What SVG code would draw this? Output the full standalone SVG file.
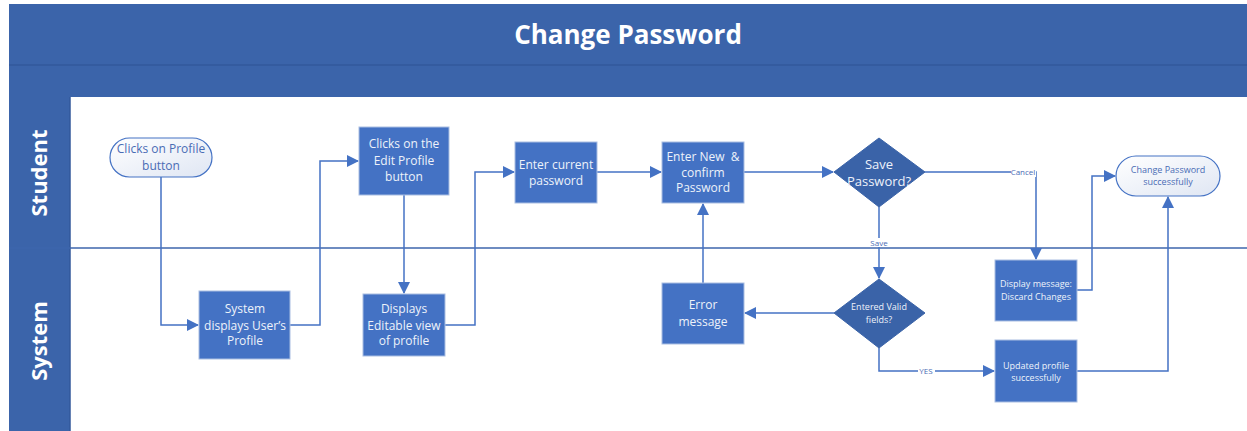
<svg xmlns="http://www.w3.org/2000/svg" width="1247" height="431" viewBox="0 0 1247 431">
<defs>
<linearGradient id="term" x1="0" y1="0" x2="1" y2="1">
<stop offset="0" stop-color="#ffffff"/>
<stop offset="1" stop-color="#dfe6f3"/>
</linearGradient>
<marker id="arr" markerUnits="userSpaceOnUse" markerWidth="12" markerHeight="12" viewBox="0 0 12 12" refX="11" refY="6" orient="auto">
<path d="M0,0 L12,6 L0,12 Z" fill="#4472C4"/>
</marker>
</defs>
<style>
.band{fill:#3B64AA}
.proc{fill:#4472C4;stroke:#A9BEE2;stroke-width:1}
.dec{fill:#3A63A8;stroke:#3A63A8}
.term{fill:url(#term);stroke:#4472C4;stroke-width:1.2}
.t{font-family:"Open Sans","Liberation Sans",sans-serif;fill:#EEF2FA;text-anchor:middle}
.tt{font-family:"Open Sans","Liberation Sans",sans-serif;fill:#4A6CB5;text-anchor:middle}
.c{fill:none;stroke:#4472C4;stroke-width:1.5}
.lbl{font-family:"Open Sans","Liberation Sans",sans-serif;font-size:8px;fill:#4A6CB5;text-anchor:middle}
.lane{font-family:"Open Sans","Liberation Sans",sans-serif;font-weight:700;font-size:22px;fill:#ffffff;text-anchor:middle}
</style>
<rect width="1247" height="431" fill="#ffffff"/>
<g id="header">
<rect class="band" x="9" y="4" width="1238" height="93"/>
<line x1="9" y1="65" x2="1247" y2="65" stroke="#33599B" stroke-width="1.5"/>
<text x="628" y="44" font-family="Open Sans, Liberation Sans, sans-serif" font-weight="700" font-size="26" fill="#ffffff" text-anchor="middle">Change Password</text>
</g>
<g id="lanes">
<rect class="band" x="9" y="97" width="61" height="334"/>
<line x1="70" y1="97" x2="70" y2="431" stroke="#33599B" stroke-width="1.5"/>
<line x1="9" y1="248" x2="1247" y2="248" stroke="#3E66AC" stroke-width="1.5"/>
<text class="lane" transform="translate(47,173) rotate(-90)">Student</text>
<text class="lane" transform="translate(47,341) rotate(-90)">System</text>
</g>
<g id="connectors">
<polyline class="c" points="161,177 161,325 198,325" marker-end="url(#arr)"/>
<polyline class="c" points="290,325 320,325 320,161 358,161" marker-end="url(#arr)"/>
<polyline class="c" points="404,195 404,293" marker-end="url(#arr)"/>
<polyline class="c" points="445,325 475,325 475,172 514,172" marker-end="url(#arr)"/>
<polyline class="c" points="597,172 661,172" marker-end="url(#arr)"/>
<polyline class="c" points="744,172 833,172" marker-end="url(#arr)"/>
<polyline class="c" points="925,172 1036,172 1036,259" marker-end="url(#arr)"/>
<polyline class="c" points="879,207 879,278" marker-end="url(#arr)"/>
<polyline class="c" points="834,313 745,313" marker-end="url(#arr)"/>
<polyline class="c" points="703,283 703,204" marker-end="url(#arr)"/>
<polyline class="c" points="879,348 879,371 994,371" marker-end="url(#arr)"/>
<polyline class="c" points="1077,290 1092,290 1092,176 1115,176" marker-end="url(#arr)"/>
<polyline class="c" points="1077,371 1168,371 1168,197" marker-end="url(#arr)"/>
<rect x="1011" y="167" width="25" height="10" fill="#ffffff"/>
<text class="lbl" x="1023" y="175">Cancel</text>
<rect x="868" y="238" width="22" height="9" fill="#ffffff"/>
<text class="lbl" x="879" y="246">Save</text>
<rect x="918" y="366" width="17" height="10" fill="#ffffff"/>
<text class="lbl" x="926" y="374">YES</text>
</g>
<g id="n1">
<rect class="term" x="110" y="138" width="102" height="39" rx="19.5"/>
<text class="tt" font-size="12"><tspan x="161" y="153">Clicks on Profile</tspan><tspan x="161" y="170">button</tspan></text>
</g>
<g id="n2">
<rect class="proc" x="199" y="291" width="91" height="68"/>
<text class="t" font-size="12"><tspan x="245" y="313">System</tspan><tspan x="245" y="330">displays User’s</tspan><tspan x="245" y="345">Profile</tspan></text>
</g>
<g id="n3">
<rect class="proc" x="359" y="127" width="90" height="68"/>
<text class="t" font-size="12"><tspan x="404" y="148">Clicks on the</tspan><tspan x="404" y="165">Edit Profile</tspan><tspan x="404" y="181">button</tspan></text>
</g>
<g id="n4">
<rect class="proc" x="363" y="294" width="82" height="62"/>
<text class="t" font-size="12"><tspan x="404" y="313">Displays</tspan><tspan x="404" y="330">Editable view</tspan><tspan x="404" y="345">of profile</tspan></text>
</g>
<g id="n5">
<rect class="proc" x="515" y="142" width="82" height="61"/>
<text class="t" font-size="12"><tspan x="556" y="169">Enter current</tspan><tspan x="556" y="185">password</tspan></text>
</g>
<g id="n6">
<rect class="proc" x="662" y="142" width="82" height="61"/>
<text class="t" font-size="12"><tspan x="703" y="161">Enter New &#160;&amp;</tspan><tspan x="703" y="177">confirm</tspan><tspan x="703" y="192">Password</tspan></text>
</g>
<g id="n7">
<polygon class="dec" points="879,138 925,172 879,207 834,172"/>
<text class="t" font-size="13"><tspan x="879" y="169">Save</tspan><tspan x="879" y="186">Password?</tspan></text>
</g>
<g id="n8">
<polygon class="dec" points="879,279 925,313 879,348 834,313"/>
<text class="t" font-size="9"><tspan x="879" y="310">Entered Valid</tspan><tspan x="879" y="323">fields?</tspan></text>
</g>
<g id="n9">
<rect class="proc" x="662" y="283" width="82" height="61"/>
<text class="t" font-size="12"><tspan x="703" y="309">Error</tspan><tspan x="703" y="326">message</tspan></text>
</g>
<g id="n10">
<rect class="proc" x="995" y="260" width="82" height="61"/>
<text class="t" font-size="9"><tspan x="1036" y="287">Display message:</tspan><tspan x="1036" y="300">Discard Changes</tspan></text>
</g>
<g id="n11">
<rect class="proc" x="995" y="340" width="82" height="62"/>
<text class="t" font-size="9"><tspan x="1036" y="369">Updated profile</tspan><tspan x="1036" y="381">successfully</tspan></text>
</g>
<g id="n12">
<rect class="term" x="1116" y="156" width="104" height="40" rx="20"/>
<text class="tt" font-size="9"><tspan x="1168" y="173">Change Password</tspan><tspan x="1168" y="185">successfully</tspan></text>
</g>
</svg>
